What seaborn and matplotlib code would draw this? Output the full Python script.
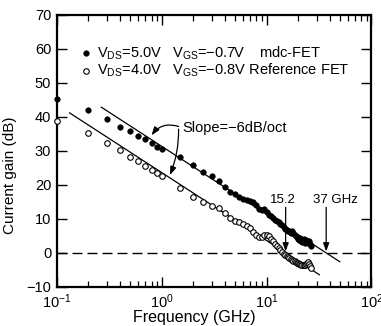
import numpy as np
import pandas as pd
import matplotlib
matplotlib.use("Agg")
import matplotlib.pyplot as plt
import matplotlib.ticker as mticker
import seaborn as sns

# ---------------- data ----------------
freq_low = [0.1, 0.2, 0.3, 0.4, 0.5, 0.6, 0.7, 0.8, 0.9, 1.0]
freq_mid = [1.5, 2.0, 2.5, 3.0, 3.5, 4.0, 4.5, 5.0]
freq_high = [5.5, 6.0, 6.5, 7.0, 7.5, 8.0, 8.5, 9.0, 9.5, 10.0, 10.5, 11.0, 11.5,
             12.0, 12.5, 13.0, 13.5, 14.0, 14.5, 15.0, 15.5, 16.0, 16.5, 17.0,
             17.5, 18.0, 18.5, 19.0, 19.5, 20.0, 20.5, 21.0, 21.5, 22.0, 22.5,
             23.0, 23.5, 24.0, 24.5, 25.0, 25.5, 26.0, 26.5]

gain_mdc = [45.2, 41.9, 39.4, 37.1, 35.8, 34.3, 33.4, 32.3, 31.3, 30.5,
            28.3, 25.9, 23.9, 22.7, 21.3, 19.5, 18.0, 17.3,
            16.5, 16.0, 15.7, 15.4, 15.0, 14.0, 13.0, 12.6, 12.8, 12.0, 11.2,
            10.8, 10.2, 9.8, 9.5, 9.0, 8.5, 8.1, 7.6, 7.0, 6.7, 6.5, 6.3, 6.0,
            6.3, 5.8, 5.4, 5.0, 4.6, 4.2, 3.9, 4.3, 3.6, 3.2, 4.0, 3.5, 3.0,
            3.8, 3.3, 2.8, 3.6, 2.5, 2.0]

gain_ref = [38.8, 35.2, 32.4, 30.3, 28.3, 27.0, 25.7, 24.5, 23.4, 22.5,
            19.0, 16.4, 14.9, 13.9, 13.1, 11.7, 10.4, 9.4,
            9.0, 8.5, 8.0, 7.2, 6.2, 5.2, 4.6, 4.8, 5.2, 5.3, 4.9, 4.2, 3.5,
            2.7, 2.1, 1.5, 0.9, 0.2, -0.2, -0.6, -0.9, -1.2, -1.5, -1.8, -2.0,
            -2.3, -2.5, -2.6, -2.9, -3.1, -3.2, -3.3, -3.5, -3.6, -3.6, -3.7,
            -3.5, -3.4, -3.0, -2.8, -3.3, -3.9, -4.3]

# -6 dB/oct fitted lines: unity-gain frequencies and drawn frequency spans
ft_mdc = 37.0
ft_ref = 15.2
fit_span_mdc = [0.265, 50.0]
fit_span_ref = [0.132, 32.0]

legend_mdc = r"V$_{\mathrm{DS}}$=5.0V   V$_{\mathrm{GS}}$=−0.7V    mdc-FET"
legend_ref = r"V$_{\mathrm{DS}}$=4.0V   V$_{\mathrm{GS}}$=−0.8V Reference FET"
slope_label = "Slope=−6dB/oct"
label_ref = "15.2"
label_mdc = "37 GHz"
x_label = "Frequency (GHz)"
y_label = "Current gain (dB)"
y_ticks = [-10, 0, 10, 20, 30, 40, 50, 60, 70]

freqs = freq_low + freq_mid + freq_high
df = pd.DataFrame({"f": freqs + freqs,
                   "g": gain_mdc + gain_ref,
                   "dev": ["mdc"] * len(freqs) + ["ref"] * len(freqs)})

fit_df = pd.DataFrame({
    "f": fit_span_mdc + fit_span_ref,
    "g": [20 * np.log10(ft_mdc / f) for f in fit_span_mdc]
         + [20 * np.log10(ft_ref / f) for f in fit_span_ref],
    "dev": ["mdc", "mdc", "ref", "ref"],
})

# ---------------- style ----------------
sns.set_style("ticks")
plt.rcParams["font.family"] = ["Liberation Sans", "DejaVu Sans"]
plt.rcParams["mathtext.fontset"] = "custom"
plt.rcParams["mathtext.rm"] = "Liberation Sans"
plt.rcParams["mathtext.it"] = "Liberation Sans"
plt.rcParams["mathtext.bf"] = "Liberation Sans"
plt.rcParams["axes.unicode_minus"] = True
for k in ["text.color", "axes.labelcolor", "xtick.color", "ytick.color",
          "axes.edgecolor"]:
    plt.rcParams[k] = "black"

fig = plt.figure(figsize=(3.81, 3.26), dpi=100)
ax = fig.add_axes([0.149, 0.120, 0.826, 0.834])

# fitted lines
sns.lineplot(data=fit_df[fit_df.dev == "mdc"], x="f", y="g", color="black",
             lw=0.9, ax=ax)
sns.lineplot(data=fit_df[fit_df.dev == "ref"], x="f", y="g", color="black",
             lw=0.9, ax=ax)

# zero line
ax.axhline(0, color="black", lw=1.0, ls=(0, (7.2, 3.6)))

# data points
d_mdc = df[df.dev == "mdc"]
d_ref = df[df.dev == "ref"]
sns.scatterplot(data=d_mdc, x="f", y="g", marker="o", s=16, color="black",
                edgecolor="black", linewidth=0.4, ax=ax, clip_on=False,
                label=legend_mdc, zorder=5)
sns.scatterplot(data=d_ref, x="f", y="g", marker="o", s=16, facecolor="white",
                edgecolor="black", linewidth=0.8, ax=ax, clip_on=False,
                label=legend_ref, zorder=5)

ax.set_xscale("log")
ax.set_xlim(0.1, 100)
ax.set_ylim(-10, 70)
ax.set_yticks(y_ticks)
ax.xaxis.set_major_locator(mticker.LogLocator(base=10))
ax.xaxis.set_minor_locator(mticker.LogLocator(base=10, subs=np.arange(2, 10)))
ax.xaxis.set_minor_formatter(mticker.NullFormatter())
ax.xaxis.set_major_formatter(mticker.LogFormatterMathtext())

ax.tick_params(which="both", direction="in", top=True, right=True,
               color="black")
ax.tick_params(axis="y", labelsize=10.5, pad=4)
ax.tick_params(axis="x", labelsize=10.5, pad=4)
ax.tick_params(which="major", length=7, width=1.0)
ax.tick_params(which="minor", length=4, width=0.9)
for s in ax.spines.values():
    s.set_linewidth(1.6)
    s.set_color("black")

ax.set_xlabel(x_label, fontsize=11.5)
ax.set_ylabel(y_label, fontsize=11)
ax.xaxis.set_label_coords(0.436, -0.085)
ax.yaxis.set_label_coords(-0.125, 0.41)

leg = ax.legend(loc="upper left", bbox_to_anchor=(0.05, 0.925), frameon=False,
                fontsize=10.5, handlelength=0.6, handletextpad=0.5,
                labelspacing=0.0, borderaxespad=0.2)

# annotations
arrow_kw = dict(arrowstyle="-|>,head_length=0.5,head_width=0.18", color="black",
                lw=0.9, shrinkA=0, shrinkB=0)
ax.annotate("", xy=(ft_ref, 0.4), xytext=(ft_ref, 13.4), arrowprops=arrow_kw)
ax.annotate("", xy=(ft_mdc, 0.4), xytext=(ft_mdc, 13.4), arrowprops=arrow_kw)
ax.text(14.4, 13.8, label_ref, ha="center", va="bottom", fontsize=9.5)
ax.text(45.7, 13.8, label_mdc, ha="center", va="bottom", fontsize=9.5)

ax.text(1.58, 36.7, slope_label, ha="left", va="center", fontsize=10.5)
ax.annotate("", xy=(0.8, 34.6), xytext=(1.45, 37.2),
            arrowprops=dict(arrow_kw, connectionstyle="arc3,rad=0.35"))
ax.annotate("", xy=(1.2, 22.9), xytext=(1.45, 36.4),
            arrowprops=dict(arrow_kw, connectionstyle="arc3,rad=-0.1"))

fig.savefig("out.png", dpi=100)
